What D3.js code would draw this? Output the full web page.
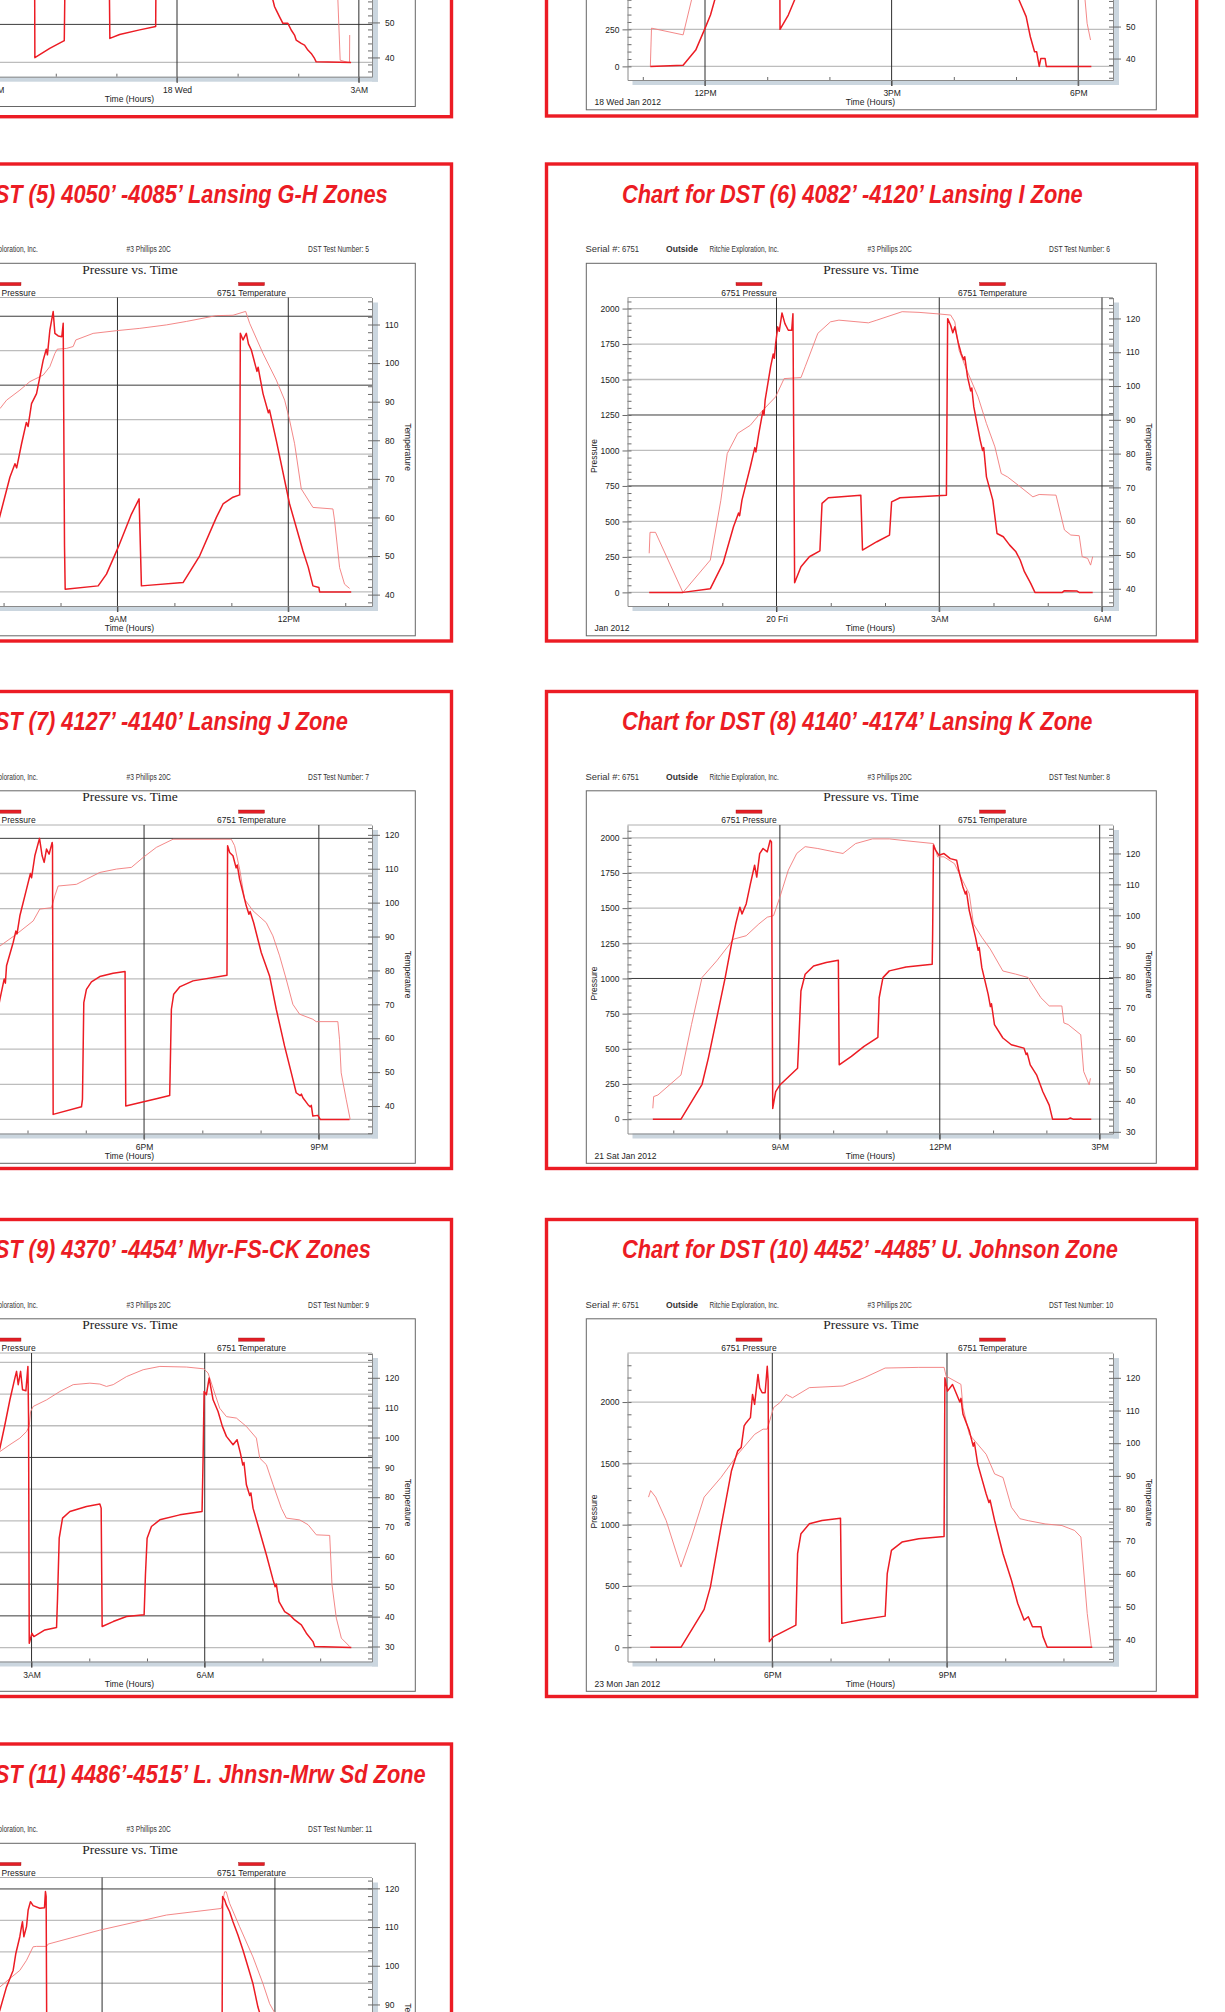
<!DOCTYPE html>
<html>
<head>
<meta charset="utf-8">
<script src="https://cdn.jsdelivr.net/npm/d3@7"></script>
<style>
html, body { margin: 0; padding: 0; background: #fff; }
svg { display: block; }
</style>
</head>
<body>
<svg id="page" width="1225" height="2012"></svg>
<script>
// ---- data: [hour of day, value] ----
// hours run past 24 when a test crosses midnight (row 1 left), or below 0 (DST 6)

var dst3Pressure = [[21.50,1900],[21.64,1950],[21.655,31],[21.90,92],[22.14,143],[22.166,1000],[22.87,1050],[22.892,158],[23.054,184],[23.384,214],[23.648,236],[23.66,1000],[24.2,1050],[24.25,1950],[25.45,800],[25.582,410],[25.610,366],[25.637,344],[25.692,300],[25.747,257],[25.829,257],[25.884,213],[25.939,180],[25.966,147],[26.049,125],[26.104,114],[26.159,81],[26.214,59],[26.269,26],[26.296,4],[26.872,0]];
var dst3Temperature = [[21.0,100],[24.5,118],[26.3,100],[26.55,70],[26.654,56.4],[26.692,39.2],[26.818,38.6],[26.846,38.6],[26.849,46.4]];
var dst3Ticks = [21, 24, 27];
var dst3TickLabels = ["9PM", "18 Wed", "3AM"];

var dst4Pressure = [[11.121,0],[11.648,7],[11.851,110],[12.0,257],[12.088,347],[12.156,448],[12.4,1100],[12.9,1950],[13.19,1940],[13.206,250],[13.339,347],[13.44,448],[13.6,700],[16.9,1000],[17.0,1900],[17.048,448],[17.095,403],[17.163,336],[17.196,268],[17.230,200],[17.298,99],[17.331,99],[17.373,0],[17.399,54],[17.467,54],[17.487,0],[18.211,0]];
var dst4Temperature = [[11.121,37.5],[11.140,49.5],[11.648,47.4],[11.783,58.3],[12.3,95],[17.3,120],[17.9,75],[18.110,58.3],[18.143,51.0],[18.198,45.8]];
var dst4Ticks = [12, 15, 18];
var dst4TickLabels = ["12PM", "3PM", "6PM"];

var dst5Pressure = [[6.75,250],[6.936,553],[7.111,832],[7.20,930],[7.23,900],[7.316,1075],[7.40,1230],[7.43,1200],[7.491,1366],[7.579,1439],[7.696,1682],[7.75,1760],[7.77,1720],[7.813,1900],[7.871,2034],[7.901,1876],[7.959,1857],[8.023,1852],[8.047,1949],[8.070,335],[8.082,19],[8.661,44],[8.807,129],[9.012,323],[9.246,565],[9.380,675],[9.421,44],[10.152,68],[10.444,262],[10.737,541],[10.854,638],[11.029,687],[11.146,704],[11.158,1876],[11.205,1828],[11.263,1876],[11.30,1800],[11.351,1755],[11.45,1600],[11.47,1630],[11.556,1439],[11.65,1300],[11.67,1320],[11.789,1099],[12.023,638],[12.257,299],[12.35,180],[12.433,44],[12.538,32],[12.550,0],[13.105,0]];
var dst5Temperature = [[6.75,86.5],[6.936,88.2],[7.053,90.4],[7.287,93.0],[7.462,95.2],[7.696,96.9],[7.813,99.1],[7.901,102.5],[7.942,103.6],[8.105,103.8],[8.222,104.3],[8.269,106.0],[8.573,107.7],[8.982,108.4],[9.392,109.0],[9.860,109.9],[10.211,110.8],[10.737,112.3],[11.029,112.4],[11.251,113.4],[11.322,110.3],[11.556,102.5],[11.789,95.6],[11.936,90.4],[12.023,85.2],[12.111,79.1],[12.228,67.4],[12.433,62.6],[12.784,62.2],[12.813,59.2],[12.901,47.0],[12.988,42.7],[13.076,41.6]];
var dst5Ticks = [6, 9, 12];
var dst5TickLabels = ["6AM", "9AM", "12PM"];

var dst6Pressure = [[-2.347,0],[-1.725,0],[-1.220,26],[-0.987,204],[-0.793,462],[-0.70,560],[-0.68,540],[-0.637,650],[-0.482,885],[-0.40,1020],[-0.38,990],[-0.326,1120],[-0.25,1280],[-0.23,1250],[-0.210,1354],[-0.109,1589],[-0.06,1680],[-0.04,1650],[-0.016,1753],[0.023,1871],[0.05,1840],[0.101,1969],[0.155,1894],[0.218,1847],[0.280,1847],[0.303,1964],[0.334,68],[0.451,181],[0.606,251],[0.800,293],[0.839,627],[0.956,667],[1.554,685],[1.585,298],[1.850,357],[2.083,404],[2.122,638],[2.277,667],[3.132,685],[3.155,1929],[3.210,1882],[3.25,1830],[3.287,1871],[3.35,1760],[3.404,1683],[3.45,1640],[3.47,1660],[3.521,1519],[3.58,1420],[3.60,1440],[3.637,1307],[3.754,1073],[3.80,1000],[3.82,1020],[3.870,814],[3.987,650],[4.065,415],[4.181,392],[4.298,333],[4.414,286],[4.492,228],[4.570,146],[4.686,63],[4.764,0],[5.269,0],[5.308,12],[5.541,9],[5.580,0],[5.829,0]];
var dst6Temperature = [[-2.347,50.5],[-2.332,56.7],[-2.231,56.7],[-1.725,38.9],[-1.220,48.5],[-1.026,66.2],[-0.909,80.0],[-0.715,86.0],[-0.482,88.4],[-0.249,92.9],[-0.016,96.8],[0.140,102.2],[0.451,102.5],[0.528,105.7],[0.762,115.6],[0.995,119.0],[1.150,119.5],[1.694,118.7],[1.850,119.5],[2.316,122.0],[2.627,121.8],[3.015,121.3],[3.210,121.0],[3.287,119.0],[3.365,110.6],[3.482,105.7],[3.715,96.8],[3.870,88.9],[4.026,82.0],[4.143,74.1],[4.259,73.1],[4.492,70.2],[4.726,67.2],[4.842,67.9],[5.153,67.7],[5.308,57.4],[5.425,55.9],[5.580,55.7],[5.635,49.5],[5.736,49.0],[5.790,47.0],[5.829,49.5]];
var dst6Ticks = [0, 3, 6];
var dst6TickLabels = ["20 Fri", "3AM", "6AM"];

var dst7Pressure = [[15.35,450],[15.526,855],[15.60,1000],[15.62,970],[15.640,1093],[15.754,1259],[15.80,1340],[15.82,1320],[15.869,1449],[15.983,1639],[16.05,1750],[16.07,1720],[16.126,1876],[16.206,2000],[16.251,1876],[16.286,1829],[16.326,1924],[16.371,1888],[16.423,1971],[16.429,1948],[16.440,36],[16.926,90],[16.943,143],[16.966,831],[17.011,926],[17.097,979],[17.240,1017],[17.469,1040],[17.674,1052],[17.686,95],[18.211,147],[18.440,171],[18.469,784],[18.509,891],[18.611,943],[18.840,986],[19.423,1026],[19.434,1948],[19.469,1900],[19.526,1876],[19.58,1790],[19.60,1810],[19.640,1710],[19.754,1520],[19.80,1460],[19.82,1480],[19.880,1401],[20.011,1188],[20.154,1021],[20.269,784],[20.411,523],[20.526,333],[20.611,190],[20.68,170],[20.70,180],[20.726,154],[20.811,107],[20.85,90],[20.87,100],[20.897,24],[20.983,29],[21.023,0],[21.526,0]];
var dst7Temperature = [[15.35,85.5],[15.526,87.2],[15.811,90.7],[16.097,94.6],[16.211,98.1],[16.411,98.5],[16.469,102.0],[16.526,104.9],[16.840,105.4],[17.011,106.9],[17.240,108.9],[17.526,109.9],[17.783,110.4],[17.983,113.3],[18.211,116.3],[18.497,118.7],[19.497,118.7],[19.554,116.8],[19.640,109.9],[19.726,101.0],[19.869,97.6],[20.097,94.1],[20.211,90.2],[20.326,84.3],[20.440,77.4],[20.554,70.0],[20.669,67.1],[20.897,65.6],[20.954,64.9],[21.326,64.9],[21.354,59.7],[21.383,49.8],[21.469,42.0],[21.537,36.1]];
var dst7Ticks = [15, 18, 21];
var dst7TickLabels = ["3PM", "6PM", "9PM"];

var dst8Pressure = [[6.616,0],[7.145,0],[7.540,248],[7.658,434],[7.816,720],[7.974,1006],[8.092,1244],[8.171,1387],[8.250,1507],[8.290,1459],[8.368,1530],[8.447,1673],[8.526,1805],[8.566,1721],[8.621,1888],[8.684,1924],[8.763,1900],[8.818,1983],[8.842,1971],[8.866,76],[8.921,195],[9.0,243],[9.332,362],[9.355,553],[9.395,911],[9.474,1030],[9.632,1089],[9.868,1113],[10.097,1130],[10.113,386],[10.342,446],[10.579,517],[10.839,582],[10.863,863],[10.934,1006],[11.053,1054],[11.368,1082],[11.858,1101],[11.866,1316],[11.882,1948],[11.921,1912],[11.984,1876],[12.079,1888],[12.197,1852],[12.316,1841],[12.355,1769],[12.434,1650],[12.48,1600],[12.50,1620],[12.553,1483],[12.671,1292],[12.72,1200],[12.74,1220],[12.789,1077],[12.908,887],[12.95,800],[12.97,820],[13.026,672],[13.184,577],[13.342,529],[13.579,505],[13.62,460],[13.64,470],[13.697,386],[13.816,315],[13.934,195],[14.053,100],[14.116,0],[14.4,0],[14.45,8],[14.5,0],[14.842,0]];
var dst8Temperature = [[6.616,37.6],[6.632,41.4],[6.711,41.9],[7.145,48.4],[7.342,64.7],[7.540,79.9],[7.816,85.3],[8.132,92.3],[8.368,93.4],[8.605,97.2],[8.763,99.4],[8.882,99.9],[9.0,105.9],[9.158,114.6],[9.316,120.0],[9.474,122.2],[9.711,121.6],[10.026,120.5],[10.184,120.0],[10.421,123.2],[10.737,124.7],[11.053,124.7],[11.368,124.1],[11.882,123.2],[11.961,118.9],[12.079,118.9],[12.276,116.7],[12.395,112.4],[12.553,107.0],[12.632,97.2],[12.789,92.9],[12.947,89.1],[13.184,82.0],[13.421,81.0],[13.658,79.9],[13.895,73.4],[14.053,70.7],[14.290,70.7],[14.329,65.2],[14.408,64.7],[14.645,61.4],[14.700,49.5],[14.803,45.2],[14.826,47.3]];
var dst8Ticks = [9, 12, 15];
var dst8TickLabels = ["9AM", "12PM", "3PM"];

var dst9Pressure = [[2.30,1300],[2.452,1574],[2.538,1758],[2.625,1955],[2.711,2126],[2.740,2179],[2.769,2074],[2.810,2179],[2.844,2034],[2.902,2026],[2.937,2218],[2.948,1811],[2.960,34],[3.006,113],[3.040,87],[3.231,139],[3.433,158],[3.450,389],[3.479,863],[3.537,1021],[3.664,1074],[3.952,1113],[4.183,1132],[4.206,1100],[4.223,166],[4.414,205],[4.645,245],[4.950,258],[4.973,574],[5.002,863],[5.077,955],[5.222,1008],[5.568,1047],[5.954,1074],[5.972,1495],[5.989,2021],[6.029,1995],[6.076,2126],[6.145,1955],[6.231,1863],[6.306,1745],[6.376,1666],[6.491,1600],[6.560,1640],[6.618,1534],[6.66,1440],[6.68,1460],[6.722,1284],[6.78,1200],[6.80,1220],[6.837,1100],[6.953,916],[7.068,732],[7.184,534],[7.22,480],[7.24,500],[7.287,363],[7.385,284],[7.472,258],[7.559,218],[7.674,179],[7.761,113],[7.876,47],[7.905,8],[8.540,0]];
var dst9Temperature = [[2.30,93.5],[2.452,95.3],[2.625,97.6],[2.798,99.8],[2.913,102.0],[2.960,103.7],[2.983,108.7],[3.029,110.4],[3.260,112.6],[3.490,115.4],[3.721,117.7],[4.010,118.2],[4.183,117.9],[4.298,117.1],[4.414,117.7],[4.645,120.4],[4.933,122.7],[5.222,123.8],[5.683,123.6],[5.983,123.0],[6.058,121.6],[6.145,116.5],[6.260,109.8],[6.376,107.0],[6.549,106.5],[6.722,103.7],[6.895,99.8],[6.953,93.1],[7.068,90.9],[7.184,84.2],[7.328,76.3],[7.414,73.0],[7.645,72.4],[7.790,70.8],[7.934,67.4],[8.165,67.2],[8.205,50.7],[8.280,39.5],[8.367,32.8],[8.511,30.0]];
var dst9Ticks = [3, 6];
var dst9TickLabels = ["3AM", "6AM"];

var dst10Pressure = [[15.903,0],[16.431,0],[16.829,309],[16.937,493],[17.118,980],[17.299,1440],[17.407,1602],[17.465,1629],[17.516,1805],[17.552,1832],[17.624,1873],[17.660,2062],[17.696,1981],[17.754,2225],[17.783,2116],[17.826,2076],[17.877,2076],[17.913,2292],[17.928,2171],[17.949,46],[18.022,87],[18.405,181],[18.434,763],[18.492,926],[18.636,1007],[18.853,1034],[19.171,1053],[19.193,195],[19.504,222],[19.938,254],[19.974,601],[20.046,790],[20.227,858],[20.516,885],[20.950,904],[20.964,2198],[21.008,2089],[21.095,2143],[21.167,2062],[21.22,2000],[21.24,2030],[21.275,1900],[21.384,1765],[21.45,1640],[21.47,1670],[21.528,1494],[21.673,1250],[21.72,1180],[21.74,1200],[21.818,1034],[21.962,763],[22.107,547],[22.215,357],[22.324,222],[22.396,249],[22.468,168],[22.613,168],[22.649,87],[22.722,0],[23.495,0]];
var dst10Temperature = [[15.874,83.5],[15.910,85.5],[15.997,83.5],[16.178,76.3],[16.431,62.1],[16.612,71.3],[16.829,83.5],[17.118,89.5],[17.407,96.6],[17.696,102.7],[17.841,104.3],[17.913,104.3],[18.022,110.9],[18.130,112.4],[18.239,114.9],[18.347,113.9],[18.636,117.0],[19.215,117.5],[19.576,120.0],[19.938,123.0],[20.516,123.2],[20.950,123.2],[20.986,120.5],[21.239,118.0],[21.275,110.9],[21.384,102.7],[21.673,96.6],[21.818,90.6],[21.962,89.5],[22.107,80.4],[22.252,76.9],[22.396,76.3],[22.685,75.3],[22.974,74.8],[23.191,73.3],[23.300,71.3],[23.408,47.9],[23.480,37.6]];
var dst10Ticks = [18, 21];
var dst10TickLabels = ["6PM", "9PM"];

var dst11Pressure = [[10.05,1050],[10.225,1285],[10.341,1471],[10.457,1604],[10.503,1737],[10.572,1870],[10.601,1950],[10.618,1990],[10.642,1870],[10.688,1950],[10.717,2083],[10.757,2149],[10.803,2117],[10.919,2096],[11.0,2101],[11.017,2229],[11.029,2189],[11.040,1045],[11.046,8],[11.5,60],[13.9,700],[14.081,886],[14.092,2189],[14.127,2163],[14.156,2123],[14.214,2069],[14.272,1990],[14.358,1883],[14.445,1764],[14.532,1631],[14.618,1498],[14.705,1311],[14.792,1178],[15.2,400],[15.5,0],[16.3,0]];
var dst11Temperature = [[10.05,93],[10.225,94.5],[10.399,96.7],[10.572,98.8],[10.688,101.4],[10.803,104.9],[10.861,105.0],[11.035,105.0],[11.064,105.6],[11.960,109.2],[13.116,113.1],[14.069,114.8],[14.127,119.1],[14.156,119.1],[14.214,116.1],[14.387,110.1],[14.618,102.3],[14.792,95.4],[14.908,90.2],[14.994,87.9],[15.3,75]];
var dst11Ticks = [12, 15];
var dst11TickLabels = ["12PM", "3PM"];

var titles = {
  5: "Chart for DST (5) 4050\u2019 -4085\u2019 Lansing G-H Zones",
  6: "Chart for DST (6) 4082\u2019 -4120\u2019 Lansing I Zone",
  7: "Chart for DST (7) 4127\u2019 -4140\u2019 Lansing J Zone",
  8: "Chart for DST (8) 4140\u2019 -4174\u2019 Lansing K Zone",
  9: "Chart for DST (9) 4370\u2019 -4454\u2019 Myr-FS-CK Zones",
  10: "Chart for DST (10) 4452\u2019 -4485\u2019 U. Johnson Zone",
  11: "Chart for DST (11) 4486\u2019-4515\u2019 L. Jhnsn-Mrw Sd Zone"
};

// panel placement on the page and the axis spans of each chart
var panels = [
  {n: 3, x0: -194.5, y0: -365.3, w: 646, h: 482, date: "Jan 2012", span: [19.207, 27.217], pSpan: [-94, 1935], tSpan: [34.5, 122.6], pStep: 250, pTop: 1750, pMinor: 50, dark: [250], ticks: dst3Ticks, labels: dst3TickLabels, pressure: dst3Pressure, temperature: dst3Temperature},
  {n: 4, x0: 546.5, y0: -362, w: 650.2, h: 478, date: "18 Wed Jan 2012", span: [10.754, 18.559], pSpan: [-92, 1992], tSpan: [33.3, 129.7], pStep: 250, pTop: 1750, pMinor: 50, dark: [], ticks: dst4Ticks, labels: dst4TickLabels, pressure: dst4Pressure, temperature: dst4Temperature},
  {n: 5, x0: -194.5, y0: 164, w: 646, h: 477, date: "Jan 2012", span: [4.944, 13.47], pSpan: [-102, 2136], tSpan: [37.05, 117.0], pStep: 250, pTop: 2000, pMinor: 50, dark: [2000, 1500], ticks: dst5Ticks, labels: dst5TickLabels, pressure: dst5Pressure, temperature: dst5Temperature},
  {n: 6, x0: 546.5, y0: 164, w: 650.2, h: 477, date: "Jan 2012", span: [-2.747, 6.203], pSpan: [-96, 2078], tSpan: [34.9, 126.2], pStep: 250, pTop: 2000, pMinor: 50, dark: [1250, 750], ticks: dst6Ticks, labels: dst6TickLabels, pressure: dst6Pressure, temperature: dst6Temperature},
  {n: 7, x0: -194.5, y0: 691.5, w: 646, h: 477, date: "Jan 2012", span: [13.58, 21.912], pSpan: [-100, 2095], tSpan: [31.9, 122.9], pStep: 250, pTop: 2000, pMinor: 50, dark: [2000], ticks: dst7Ticks, labels: dst7TickLabels, pressure: dst7Pressure, temperature: dst7Temperature},
  {n: 8, x0: 546.5, y0: 691.5, w: 650.2, h: 477, date: "21 Sat Jan 2012", span: [6.141, 15.25], pSpan: [-102, 2091], tSpan: [29.46, 129.2], pStep: 250, pTop: 2000, pMinor: 50, dark: [1000], ticks: dst8Ticks, labels: dst8TickLabels, pressure: dst8Pressure, temperature: dst8Temperature},
  {n: 9, x0: -194.5, y0: 1219.5, w: 646, h: 477, date: "Jan 2012", span: [0.487, 8.898], pSpan: [-110, 2324], tSpan: [24.98, 128.3], pStep: 250, pTop: 2250, pMinor: 50, dark: [1500, 500, 250], ticks: dst9Ticks, labels: dst9TickLabels, pressure: dst9Pressure, temperature: dst9Temperature},
  {n: 10, x0: 546.5, y0: 1219.5, w: 650.2, h: 477, date: "23 Mon Jan 2012", span: [15.513, 23.851], pSpan: [-116, 2400], tSpan: [33.2, 127.6], pStep: 500, pTop: 2000, pMinor: 100, dark: [], ticks: dst10Ticks, labels: dst10TickLabels, pressure: dst10Pressure, temperature: dst10Temperature},
  {n: 11, x0: -194.5, y0: 1744, w: 646, h: 477, date: "Jan 2012", span: [8.258, 16.685], pSpan: [-112, 2341], tSpan: [43.1, 122.8], pStep: 250, pTop: 2250, pMinor: 50, dark: [2250], ticks: dst11Ticks, labels: dst11TickLabels, pressure: dst11Pressure, temperature: dst11Temperature}
];

var red = "#ec1c24";
var SANS = "'Liberation Sans', Arial, sans-serif";
var SERIF = "'Liberation Serif', 'Times New Roman', serif";
// plot area inside a panel
var PL = 81, PR = 566.5, PT = 133.5, PB = 442;

var svg = d3.select("#page");
svg.append("rect").attr("width", 1225).attr("height", 2012).attr("fill", "#fff");

// work out how much the bold italic title has to be squeezed (DST 6 title is 461px wide)
var probe = svg.append("text")
  .style("font-family", SANS)
  .attr("font-size", 25).attr("font-weight", "bold").attr("font-style", "italic")
  .text(titles[6]);
var titleScale = 461 / probe.node().getComputedTextLength();
probe.remove();

panels.forEach(drawPanel);

// the page is a crop: drop texts that lie wholly outside it
svg.selectAll("text").each(function() {
  var b = this.getBoundingClientRect();
  if (b.right < 0 || b.left > 1225 || b.bottom < 0 || b.top > 2012) d3.select(this).remove();
});

function styleAxis(sel) {
  sel.selectAll(".domain").attr("stroke", "#8a8a8a");
  sel.selectAll(".tick line").attr("stroke", "#6a6a6a");
  sel.selectAll("text").attr("font-size", 8.5).attr("fill", "#222").style("font-family", SANS);
}

function label(g, x, y, txt) {
  return g.append("text")
    .attr("x", x).attr("y", y)
    .style("font-family", SANS)
    .attr("font-size", 8.5).attr("fill", "#222")
    .text(txt);
}

function smallText(g, x, y, txt, len, bold) {
  g.append("text")
    .attr("x", x).attr("y", y)
    .style("font-family", SANS)
    .attr("font-size", 8.3)
    .attr("font-weight", bold ? "bold" : "normal")
    .attr("fill", "#333")
    .attr("textLength", len)
    .attr("lengthAdjust", "spacingAndGlyphs")
    .text(txt);
}

function drawPanel(p) {
  var g = svg.append("g").attr("transform", "translate(" + p.x0 + "," + p.y0 + ")");

  var x = d3.scaleLinear().domain(p.span).range([PL, PR]);
  var yP = d3.scaleLinear().domain(p.pSpan).range([PB, PT]);
  var yT = d3.scaleLinear().domain(p.tSpan).range([PB, PT]);

  // red page border
  g.append("rect")
    .attr("x", 0).attr("y", 0).attr("width", p.w).attr("height", p.h)
    .attr("fill", "none").attr("stroke", red).attr("stroke-width", 3.4);

  // big title
  if (titles[p.n]) {
    g.append("text")
      .attr("transform", "translate(75.5,38.5) scale(" + titleScale + ",1)")
      .style("font-family", SANS)
      .attr("font-size", 25).attr("font-weight", "bold").attr("font-style", "italic")
      .attr("fill", red)
      .text(titles[p.n]);
  }

  // header line
  var testTxt = "DST Test Number: " + p.n;
  smallText(g, 39, 88, "Serial #:", 34.5, false);
  smallText(g, 75.5, 88, "6751", 17, false);
  smallText(g, 119.5, 88, "Outside", 32, true);
  smallText(g, 163, 88, "Ritchie Exploration, Inc.", 69.4, false);
  smallText(g, 321, 88, "#3 Phillips 20C", 44.2, false);
  smallText(g, 502.5, 88, testTxt, 61 + 3.3 * (String(p.n).length - 1), false);

  // inner chart frame
  g.append("rect")
    .attr("x", 39.8).attr("y", 99.3).attr("width", 570).attr("height", 372.5)
    .attr("fill", "none").attr("stroke", "#666").attr("stroke-width", 1);

  g.append("text")
    .attr("x", 324.5).attr("y", 109.5)
    .attr("text-anchor", "middle")
    .style("font-family", SERIF)
    .attr("font-size", 13.5).attr("fill", "#222")
    .text("Pressure vs. Time");

  // legend
  [[202.5, "6751 Pressure"], [446, "6751 Temperature"]].forEach(function(d) {
    g.append("rect")
      .attr("x", d[0] - 13).attr("y", 118.5).attr("width", 26).attr("height", 3.2)
      .attr("fill", "#e41e26").attr("stroke", "#9a1418").attr("stroke-width", 0.4);
    label(g, d[0], 131.5, d[1]).attr("text-anchor", "middle");
  });

  // shadow on right and bottom of the plot
  g.append("rect").attr("x", PR).attr("y", PT + 5).attr("width", 6).attr("height", PB - PT)
    .attr("fill", "#cbd6df");
  g.append("rect").attr("x", PL + 5).attr("y", PB).attr("width", PR - PL + 1).attr("height", 5)
    .attr("fill", "#cbd6df");

  // top line of the plot
  g.append("line")
    .attr("x1", PL).attr("x2", PR).attr("y1", PT).attr("y2", PT)
    .attr("stroke", "#b0b0b0");

  // horizontal pressure grid
  var pValues = d3.range(0, p.pTop + 1, p.pStep);
  g.selectAll("line.grid").data(pValues).enter().append("line")
    .attr("class", "grid")
    .attr("x1", PL).attr("x2", PR)
    .attr("y1", function(d) { return yP(d); })
    .attr("y2", function(d) { return yP(d); })
    .attr("stroke", function(d) { return p.dark.indexOf(d) >= 0 ? "#3c3c3c" : "#bdbdbd"; })
    .attr("stroke-width", function(d) { return p.dark.indexOf(d) >= 0 ? 1 : 1.3; });

  // vertical lines at the labelled times
  g.selectAll("line.vline").data(p.ticks).enter().append("line")
    .attr("class", "vline")
    .attr("x1", function(d) { return x(d); })
    .attr("x2", function(d) { return x(d); })
    .attr("y1", PT).attr("y2", PB + 6)
    .attr("stroke", "#2e2e2e").attr("stroke-width", 1);

  // pressure axis (left)
  var pMinor = d3.range(0, p.pSpan[1], p.pMinor);
  var leftMinor = g.append("g").attr("transform", "translate(" + PL + ",0)")
    .call(d3.axisRight(yP).tickValues(pMinor).tickSize(4).tickFormat("").tickSizeOuter(0));
  leftMinor.select(".domain").remove();
  styleAxis(leftMinor);
  var leftAxis = g.append("g").attr("transform", "translate(" + PL + ",0)")
    .call(d3.axisLeft(yP).tickValues(pValues).tickFormat(d3.format("d"))
      .tickSize(5).tickPadding(3).tickSizeOuter(0));
  styleAxis(leftAxis);

  // temperature axis (right)
  var tLabels = d3.range(Math.ceil(p.tSpan[0] / 10) * 10, p.tSpan[1], 10);
  var tMinor = d3.range(Math.ceil(p.tSpan[0] / 2) * 2, p.tSpan[1], 2);
  var rightMinor = g.append("g").attr("transform", "translate(" + PR + ",0)")
    .call(d3.axisLeft(yT).tickValues(tMinor).tickSize(4).tickFormat("").tickSizeOuter(0));
  rightMinor.select(".domain").remove();
  styleAxis(rightMinor);
  var rightAxis = g.append("g").attr("transform", "translate(" + PR + ",0)")
    .call(d3.axisRight(yT).tickValues(tLabels).tickFormat(d3.format("d"))
      .tickSize(8).tickPadding(5).tickSizeOuter(0));
  styleAxis(rightAxis);

  // time axis (bottom)
  var hours = d3.range(Math.ceil(p.span[0]), p.span[1], 1).filter(function(h) {
    return p.ticks.indexOf(h) < 0;
  });
  var bottomMinor = g.append("g").attr("transform", "translate(0," + PB + ")")
    .call(d3.axisTop(x).tickValues(hours).tickSize(3).tickFormat("").tickSizeOuter(0));
  bottomMinor.select(".domain").remove();
  styleAxis(bottomMinor);
  var bottomAxis = g.append("g").attr("transform", "translate(0," + PB + ")")
    .call(d3.axisBottom(x).tickValues(p.ticks)
      .tickFormat(function(d, i) { return p.labels[i]; })
      .tickSize(6).tickPadding(4).tickSizeOuter(0));
  styleAxis(bottomAxis);

  // axis titles
  label(g, 0, 0, "Pressure")
    .attr("transform", "translate(50.5,292) rotate(-90)")
    .attr("text-anchor", "middle");
  label(g, 0, 0, "Temperature")
    .attr("transform", "translate(599.5,283) rotate(90)")
    .attr("text-anchor", "middle");
  label(g, 324, 467, "Time (Hours)").attr("text-anchor", "middle");
  label(g, 48, 467, p.date);

  // curves, clipped to the plot
  var clipId = "clip" + p.n;
  g.append("clipPath").attr("id", clipId)
    .append("rect").attr("x", PL).attr("y", PT).attr("width", PR - PL).attr("height", PB - PT);
  var curves = g.append("g").attr("clip-path", "url(#" + clipId + ")");

  var tempLine = d3.line()
    .x(function(d) { return x(d[0]); })
    .y(function(d) { return yT(d[1]); });
  var pressLine = d3.line()
    .x(function(d) { return x(d[0]); })
    .y(function(d) { return yP(d[1]); });

  curves.append("path")
    .datum(p.temperature)
    .attr("d", tempLine)
    .attr("fill", "none").attr("stroke", "#f27a7a").attr("stroke-width", 0.9);
  curves.append("path")
    .datum(p.pressure)
    .attr("d", pressLine)
    .attr("fill", "none").attr("stroke", "#ec1c24").attr("stroke-width", 1.5)
    .attr("stroke-linejoin", "round");
}
</script>
</body>
</html>
